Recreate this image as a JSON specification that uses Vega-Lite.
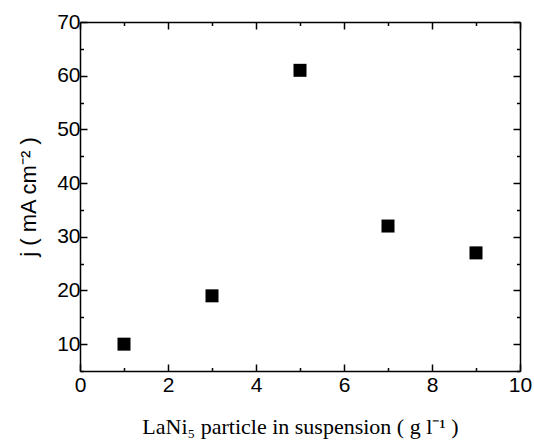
{
  "$schema": "https://vega.github.io/schema/vega-lite/v6.json",
  "width": 440,
  "height": 349,
  "autosize": "none",
  "padding": {"left": 80, "top": 22, "right": 14, "bottom": 73},
  "background": "white",
  "config": {
    "view": {"stroke": null},
    "axis": {
      "domainColor": "black",
      "domainWidth": 1.5,
      "tickColor": "black",
      "tickWidth": 1.5,
      "grid": false,
      "labelFont": "Liberation Sans",
      "labelFontSize": 21,
      "labelColor": "black",
      "titleColor": "black",
      "titleFontWeight": "normal"
    }
  },
  "data": {
    "values": [
      {"conc": 1, "j": 10},
      {"conc": 3, "j": 19},
      {"conc": 5, "j": 61},
      {"conc": 7, "j": 32},
      {"conc": 9, "j": 27}
    ]
  },
  "layer": [
    {
      "mark": {"type": "point", "shape": "square", "filled": true, "color": "black", "size": 169, "opacity": 1},
      "encoding": {
        "x": {
          "field": "conc", "type": "quantitative",
          "scale": {"domain": [0, 10], "nice": false, "zero": false},
          "axis": {
            "orient": "bottom",
            "values": [0, 1, 2, 3, 4, 5, 6, 7, 8, 9, 10],
            "labelExpr": "datum.value % 2 == 0 ? datum.label : ''",
            "tickSize": {"condition": {"test": "datum.value % 2 == 1", "value": -3.5}, "value": -7},
            "labelPadding": 10,
            "labelFlush": false,
            "title": "LaNi₅ particle in suspension ( g l⁻¹ )",
            "titleFont": "Liberation Serif",
            "titleFontSize": 22,
            "titlePadding": 21
          }
        },
        "y": {
          "field": "j", "type": "quantitative",
          "scale": {"domain": [5, 70], "nice": false, "zero": false},
          "axis": {
            "orient": "left",
            "values": [5, 10, 15, 20, 25, 30, 35, 40, 45, 50, 55, 60, 65, 70],
            "labelExpr": "datum.value % 10 == 0 ? datum.label : ''",
            "tickSize": {"condition": {"test": "datum.value % 10 == 5", "value": -3.5}, "value": -7},
            "labelPadding": 7,
            "labelFlush": false,
            "title": "j ( mA cm⁻² )",
            "titleFont": "Liberation Sans",
            "titleFontSize": 22,
            "titlePadding": 16
          }
        }
      }
    },
    {
      "mark": {"type": "point", "opacity": 0},
      "encoding": {
        "x": {
          "field": "conc", "type": "quantitative",
          "axis": {
            "orient": "top",
            "values": [0, 1, 2, 3, 4, 5, 6, 7, 8, 9, 10],
            "labels": false,
            "tickSize": {"condition": {"test": "datum.value % 2 == 1", "value": -3.5}, "value": -7},
            "title": null
          }
        },
        "y": {
          "field": "j", "type": "quantitative",
          "axis": {
            "orient": "right",
            "values": [5, 10, 15, 20, 25, 30, 35, 40, 45, 50, 55, 60, 65, 70],
            "labels": false,
            "tickSize": {"condition": {"test": "datum.value % 10 == 5", "value": -3.5}, "value": -7},
            "title": null
          }
        }
      }
    }
  ],
  "resolve": {"axis": {"x": "independent", "y": "independent"}}
}
